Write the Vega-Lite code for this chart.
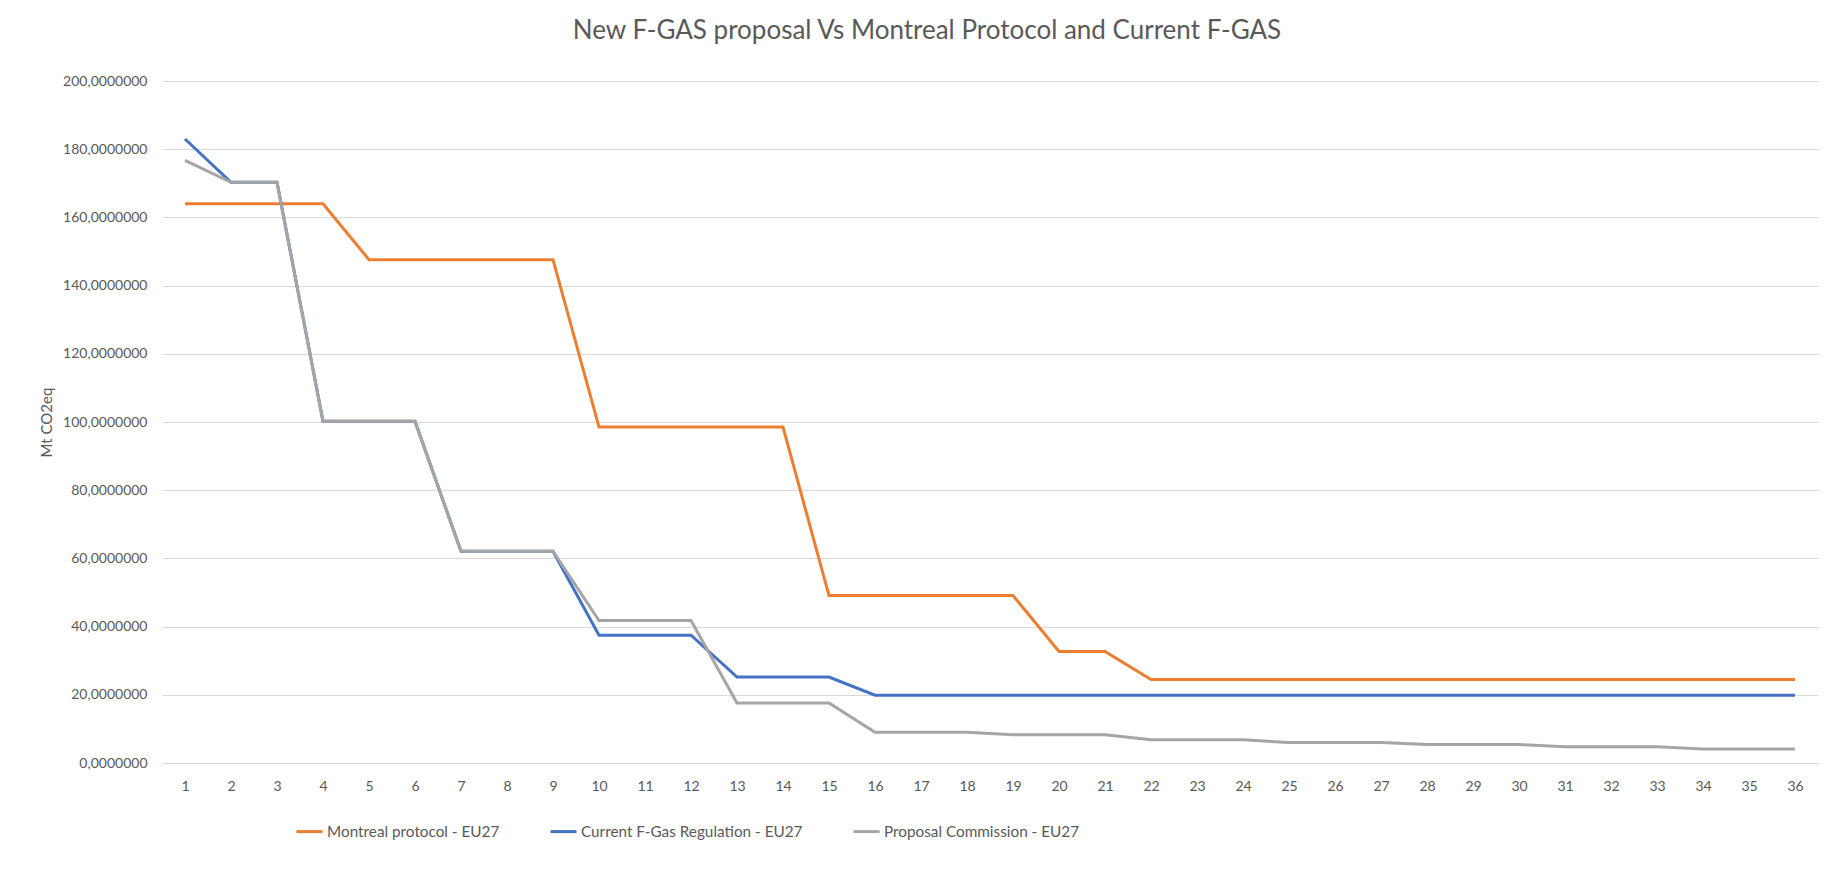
{
  "$schema": "https://vega.github.io/schema/vega-lite/v6.json",
  "width": 1656,
  "height": 682,
  "autosize": {"type": "none"},
  "padding": {"left": 162, "top": 81, "right": 11, "bottom": 120},
  "background": "white",
  "title": {
    "text": "New F-GAS proposal Vs Montreal Protocol and Current F-GAS",
    "font": "Lato",
    "fontSize": 26,
    "fontWeight": "normal",
    "color": "#595959",
    "anchor": "middle",
    "dx": -63,
    "offset": 30
  },
  "data": {
    "values": [
      {"x": 1, "series": "Montreal protocol - EU27", "value": 164.0},
      {"x": 2, "series": "Montreal protocol - EU27", "value": 164.0},
      {"x": 3, "series": "Montreal protocol - EU27", "value": 164.0},
      {"x": 4, "series": "Montreal protocol - EU27", "value": 164.0},
      {"x": 5, "series": "Montreal protocol - EU27", "value": 147.6},
      {"x": 6, "series": "Montreal protocol - EU27", "value": 147.6},
      {"x": 7, "series": "Montreal protocol - EU27", "value": 147.6},
      {"x": 8, "series": "Montreal protocol - EU27", "value": 147.6},
      {"x": 9, "series": "Montreal protocol - EU27", "value": 147.6},
      {"x": 10, "series": "Montreal protocol - EU27", "value": 98.5},
      {"x": 11, "series": "Montreal protocol - EU27", "value": 98.5},
      {"x": 12, "series": "Montreal protocol - EU27", "value": 98.5},
      {"x": 13, "series": "Montreal protocol - EU27", "value": 98.5},
      {"x": 14, "series": "Montreal protocol - EU27", "value": 98.5},
      {"x": 15, "series": "Montreal protocol - EU27", "value": 49.1},
      {"x": 16, "series": "Montreal protocol - EU27", "value": 49.1},
      {"x": 17, "series": "Montreal protocol - EU27", "value": 49.1},
      {"x": 18, "series": "Montreal protocol - EU27", "value": 49.1},
      {"x": 19, "series": "Montreal protocol - EU27", "value": 49.1},
      {"x": 20, "series": "Montreal protocol - EU27", "value": 32.7},
      {"x": 21, "series": "Montreal protocol - EU27", "value": 32.7},
      {"x": 22, "series": "Montreal protocol - EU27", "value": 24.5},
      {"x": 23, "series": "Montreal protocol - EU27", "value": 24.5},
      {"x": 24, "series": "Montreal protocol - EU27", "value": 24.5},
      {"x": 25, "series": "Montreal protocol - EU27", "value": 24.5},
      {"x": 26, "series": "Montreal protocol - EU27", "value": 24.5},
      {"x": 27, "series": "Montreal protocol - EU27", "value": 24.5},
      {"x": 28, "series": "Montreal protocol - EU27", "value": 24.5},
      {"x": 29, "series": "Montreal protocol - EU27", "value": 24.5},
      {"x": 30, "series": "Montreal protocol - EU27", "value": 24.5},
      {"x": 31, "series": "Montreal protocol - EU27", "value": 24.5},
      {"x": 32, "series": "Montreal protocol - EU27", "value": 24.5},
      {"x": 33, "series": "Montreal protocol - EU27", "value": 24.5},
      {"x": 34, "series": "Montreal protocol - EU27", "value": 24.5},
      {"x": 35, "series": "Montreal protocol - EU27", "value": 24.5},
      {"x": 36, "series": "Montreal protocol - EU27", "value": 24.5},
      {"x": 1, "series": "Current F-Gas Regulation - EU27", "value": 183.0},
      {"x": 2, "series": "Current F-Gas Regulation - EU27", "value": 170.3},
      {"x": 3, "series": "Current F-Gas Regulation - EU27", "value": 170.3},
      {"x": 4, "series": "Current F-Gas Regulation - EU27", "value": 100.2},
      {"x": 5, "series": "Current F-Gas Regulation - EU27", "value": 100.2},
      {"x": 6, "series": "Current F-Gas Regulation - EU27", "value": 100.2},
      {"x": 7, "series": "Current F-Gas Regulation - EU27", "value": 62.1},
      {"x": 8, "series": "Current F-Gas Regulation - EU27", "value": 62.1},
      {"x": 9, "series": "Current F-Gas Regulation - EU27", "value": 62.1},
      {"x": 10, "series": "Current F-Gas Regulation - EU27", "value": 37.5},
      {"x": 11, "series": "Current F-Gas Regulation - EU27", "value": 37.5},
      {"x": 12, "series": "Current F-Gas Regulation - EU27", "value": 37.5},
      {"x": 13, "series": "Current F-Gas Regulation - EU27", "value": 25.2},
      {"x": 14, "series": "Current F-Gas Regulation - EU27", "value": 25.2},
      {"x": 15, "series": "Current F-Gas Regulation - EU27", "value": 25.2},
      {"x": 16, "series": "Current F-Gas Regulation - EU27", "value": 19.9},
      {"x": 17, "series": "Current F-Gas Regulation - EU27", "value": 19.9},
      {"x": 18, "series": "Current F-Gas Regulation - EU27", "value": 19.9},
      {"x": 19, "series": "Current F-Gas Regulation - EU27", "value": 19.9},
      {"x": 20, "series": "Current F-Gas Regulation - EU27", "value": 19.9},
      {"x": 21, "series": "Current F-Gas Regulation - EU27", "value": 19.9},
      {"x": 22, "series": "Current F-Gas Regulation - EU27", "value": 19.9},
      {"x": 23, "series": "Current F-Gas Regulation - EU27", "value": 19.9},
      {"x": 24, "series": "Current F-Gas Regulation - EU27", "value": 19.9},
      {"x": 25, "series": "Current F-Gas Regulation - EU27", "value": 19.9},
      {"x": 26, "series": "Current F-Gas Regulation - EU27", "value": 19.9},
      {"x": 27, "series": "Current F-Gas Regulation - EU27", "value": 19.9},
      {"x": 28, "series": "Current F-Gas Regulation - EU27", "value": 19.9},
      {"x": 29, "series": "Current F-Gas Regulation - EU27", "value": 19.9},
      {"x": 30, "series": "Current F-Gas Regulation - EU27", "value": 19.9},
      {"x": 31, "series": "Current F-Gas Regulation - EU27", "value": 19.9},
      {"x": 32, "series": "Current F-Gas Regulation - EU27", "value": 19.9},
      {"x": 33, "series": "Current F-Gas Regulation - EU27", "value": 19.9},
      {"x": 34, "series": "Current F-Gas Regulation - EU27", "value": 19.9},
      {"x": 35, "series": "Current F-Gas Regulation - EU27", "value": 19.9},
      {"x": 36, "series": "Current F-Gas Regulation - EU27", "value": 19.9},
      {"x": 1, "series": "Proposal Commission - EU27", "value": 176.7},
      {"x": 2, "series": "Proposal Commission - EU27", "value": 170.3},
      {"x": 3, "series": "Proposal Commission - EU27", "value": 170.3},
      {"x": 4, "series": "Proposal Commission - EU27", "value": 100.2},
      {"x": 5, "series": "Proposal Commission - EU27", "value": 100.2},
      {"x": 6, "series": "Proposal Commission - EU27", "value": 100.2},
      {"x": 7, "series": "Proposal Commission - EU27", "value": 62.1},
      {"x": 8, "series": "Proposal Commission - EU27", "value": 62.1},
      {"x": 9, "series": "Proposal Commission - EU27", "value": 62.1},
      {"x": 10, "series": "Proposal Commission - EU27", "value": 41.8},
      {"x": 11, "series": "Proposal Commission - EU27", "value": 41.8},
      {"x": 12, "series": "Proposal Commission - EU27", "value": 41.8},
      {"x": 13, "series": "Proposal Commission - EU27", "value": 17.6},
      {"x": 14, "series": "Proposal Commission - EU27", "value": 17.6},
      {"x": 15, "series": "Proposal Commission - EU27", "value": 17.6},
      {"x": 16, "series": "Proposal Commission - EU27", "value": 9.0},
      {"x": 17, "series": "Proposal Commission - EU27", "value": 9.0},
      {"x": 18, "series": "Proposal Commission - EU27", "value": 9.0},
      {"x": 19, "series": "Proposal Commission - EU27", "value": 8.3},
      {"x": 20, "series": "Proposal Commission - EU27", "value": 8.3},
      {"x": 21, "series": "Proposal Commission - EU27", "value": 8.3},
      {"x": 22, "series": "Proposal Commission - EU27", "value": 6.8},
      {"x": 23, "series": "Proposal Commission - EU27", "value": 6.8},
      {"x": 24, "series": "Proposal Commission - EU27", "value": 6.8},
      {"x": 25, "series": "Proposal Commission - EU27", "value": 6.0},
      {"x": 26, "series": "Proposal Commission - EU27", "value": 6.0},
      {"x": 27, "series": "Proposal Commission - EU27", "value": 6.0},
      {"x": 28, "series": "Proposal Commission - EU27", "value": 5.4},
      {"x": 29, "series": "Proposal Commission - EU27", "value": 5.4},
      {"x": 30, "series": "Proposal Commission - EU27", "value": 5.4},
      {"x": 31, "series": "Proposal Commission - EU27", "value": 4.8},
      {"x": 32, "series": "Proposal Commission - EU27", "value": 4.8},
      {"x": 33, "series": "Proposal Commission - EU27", "value": 4.8},
      {"x": 34, "series": "Proposal Commission - EU27", "value": 4.1},
      {"x": 35, "series": "Proposal Commission - EU27", "value": 4.1},
      {"x": 36, "series": "Proposal Commission - EU27", "value": 4.1}
    ]
  },
  "mark": {"type": "line", "strokeWidth": 3, "strokeJoin": "miter"},
  "encoding": {
    "x": {
      "field": "x",
      "type": "ordinal",
      "scale": {"type": "point", "padding": 0.5},
      "axis": {
        "title": null,
        "labelAngle": 0,
        "grid": false,
        "domain": false,
        "ticks": false,
        "tickSize": 0,
        "labelPadding": 16,
        "labelFont": "Lato",
        "labelFontSize": 14,
        "labelColor": "#595959"
      }
    },
    "y": {
      "field": "value",
      "type": "quantitative",
      "scale": {"domain": [0, 200], "nice": false},
      "axis": {
        "title": "Mt CO2eq",
        "titleFont": "Lato",
        "titleFontSize": 15,
        "titleFontWeight": "normal",
        "titleColor": "#595959",
        "titlePadding": 8,
        "values": [0, 20, 40, 60, 80, 100, 120, 140, 160, 180, 200],
        "labelExpr": "replace(format(datum.value, '.7f'), '.', ',')",
        "labelFont": "Lato",
        "labelFontSize": 14,
        "labelColor": "#595959",
        "labelPadding": 15,
        "ticks": false,
        "tickSize": 0,
        "domain": false,
        "grid": true,
        "gridColor": "#d9d9d9",
        "gridWidth": 1
      }
    },
    "color": {
      "field": "series",
      "type": "nominal",
      "scale": {
        "domain": ["Montreal protocol - EU27", "Current F-Gas Regulation - EU27", "Proposal Commission - EU27"],
        "range": ["#ED7D31", "#4472C4", "#A5A5A5"]
      },
      "legend": {
        "title": null,
        "orient": "none",
        "direction": "horizontal",
        "legendX": 133,
        "legendY": 736,
        "symbolType": "stroke",
        "symbolStrokeWidth": 3,
        "symbolSize": 676,
        "labelFont": "Lato",
        "labelFontSize": 15.3,
        "labelColor": "#595959",
        "labelLimit": 0,
        "labelOffset": 3,
        "columnPadding": 44
      }
    }
  },
  "config": {
    "view": {"stroke": null}
  }
}
